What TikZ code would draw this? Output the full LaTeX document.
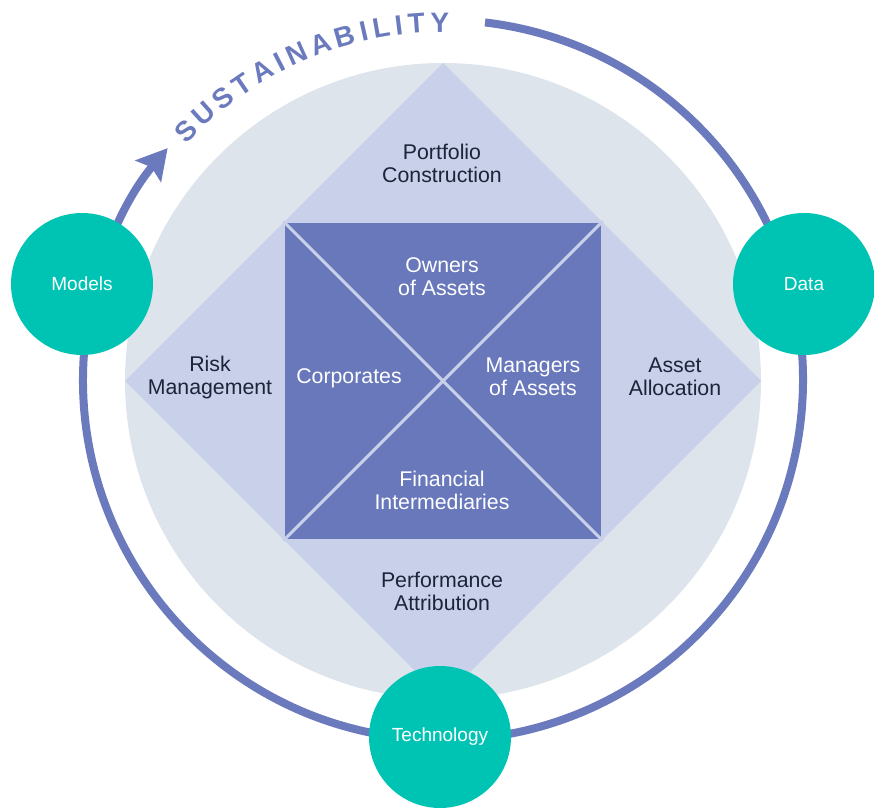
\documentclass[tikz,border=0pt]{standalone}
\usepackage{fontspec}
\setmainfont{Liberation Sans}
\usetikzlibrary{arrows.meta,decorations.text}
\definecolor{ringc}{HTML}{6A7ABD}
\definecolor{graybg}{HTML}{DEE4EC}
\definecolor{diam}{HTML}{C9D0EA}
\definecolor{sqc}{HTML}{6878BB}
\definecolor{tealc}{HTML}{00C4B3}
\definecolor{darktxt}{HTML}{1B2438}
\begin{document}
\begin{tikzpicture}[x=1pt,y=1pt,
  lbl/.style={font=\fontsize{21.3}{23}\selectfont, text=darktxt, align=center, inner sep=0pt},
  wlbl/.style={lbl, text=white},
  hub/.style={circle, fill=tealc, minimum size=142pt, inner sep=0pt, text=white, font=\fontsize{19}{23}\selectfont}]
\useasboundingbox (0,0) rectangle (874,807);
\coordinate (O) at (443,426);
\coordinate (R) at (443,427);
\fill[graybg] (O) circle (318);
\fill[diam] (443,744) -- (761,426) -- (443,108) -- (125,426) -- cycle;
\node[draw=diam, line width=1.5pt, fill=sqc, minimum size=318pt, inner sep=0pt] (sq) at (O) {};
\draw[diam, line width=3pt] (sq.north west) -- (sq.south east) (sq.north east) -- (sq.south west);
% ring
\draw[ringc, line width=8pt, -{Stealth[length=30pt,width=33pt,inset=5pt]}]
  ([shift={(R)}]83.3:360) arc[start angle=83.3, end angle=-220.1, radius=360];
% sustainability text
\path[decorate, decoration={text along path,
   text={|\bfseries\fontsize{28}{28}\selectfont\color{ringc}|SUSTAINABILITY},
   text align={fit to path}}]
  ([shift={(R)}]137.5:348) arc[start angle=137.5, end angle=89, radius=348];
% labels
\node[lbl] (pc) at (442,644) {Portfolio\\Construction};
\node[lbl] (rm) at (210,430) {Risk\\Management};
\node[lbl] (aa) at (675,430) {Asset\\Allocation};
\node[lbl] (pa) at (442,216) {Performance\\Attribution};
\node[wlbl] (oa) at (442,530) {Owners\\of Assets};
\node[wlbl] (co) at (349,429) {Corporates};
\node[wlbl] (ma) at (533,430) {Managers\\of Assets};
\node[wlbl] (fi) at (442,317) {Financial\\Intermediaries};
% hubs
\node[hub] (models) at (82,523) {Models};
\node[hub] (data) at (804,523) {Data};
\node[hub] (tech) at (440,70) {Technology};
\end{tikzpicture}
\end{document}
